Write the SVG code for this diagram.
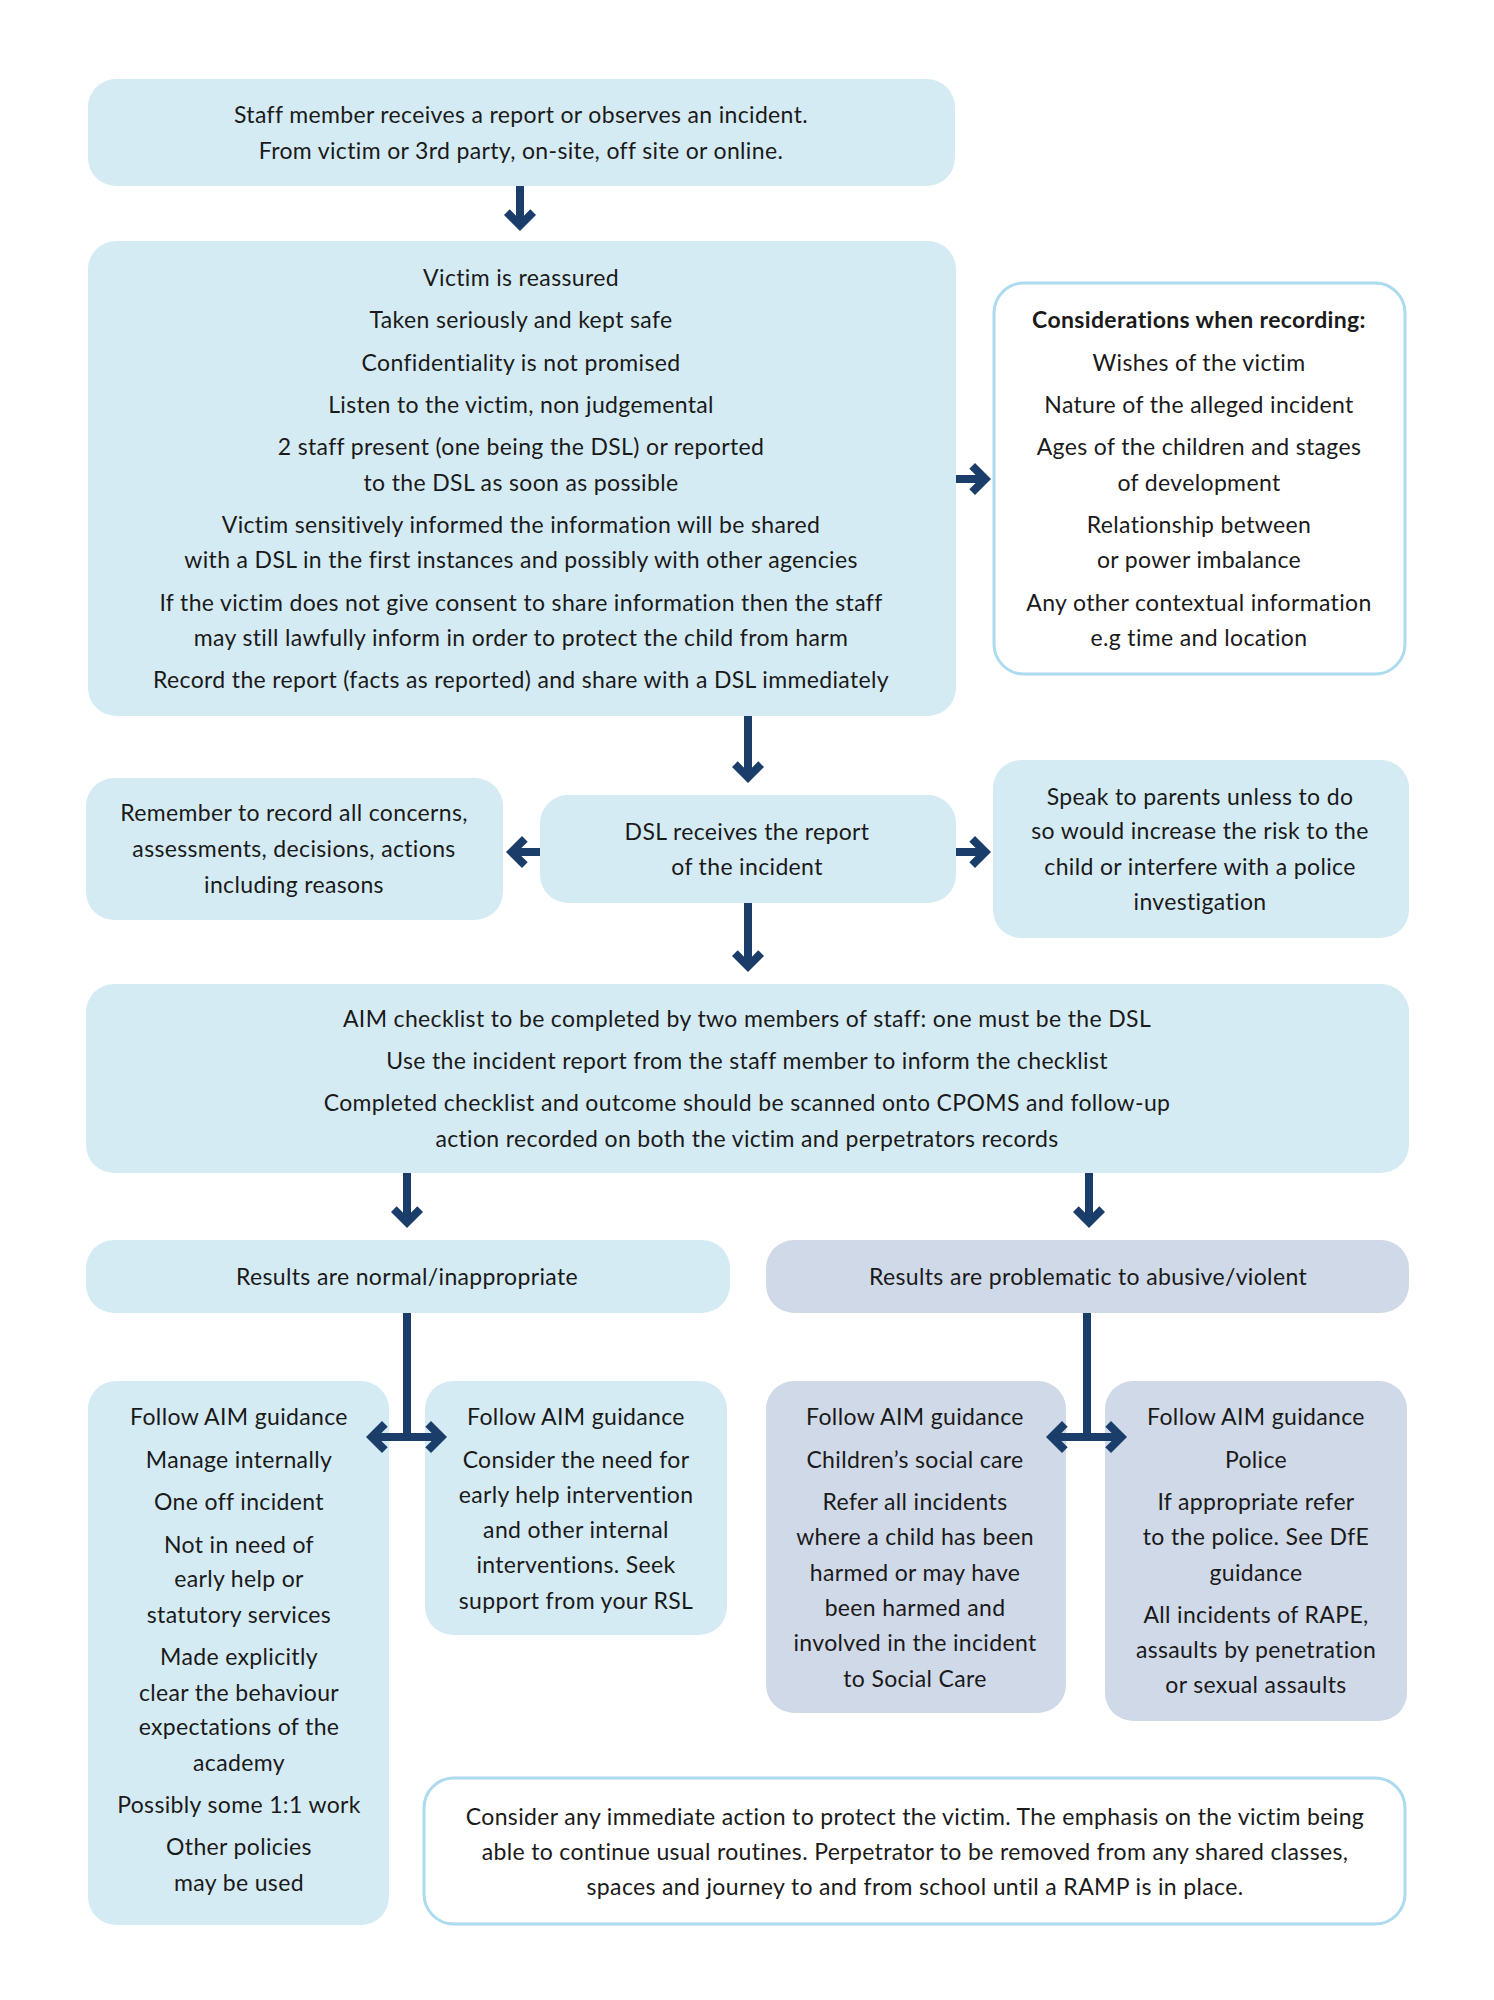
<svg xmlns="http://www.w3.org/2000/svg" width="1494" height="2000" viewBox="0 0 1494 2000">
<style>
.box{fill:#d5ebf4;}
.lav{fill:#d0d9e8;}
.wbox{fill:#ffffff;stroke:#acdaee;stroke-width:3;}
text{font-family:Lato,"Noto Sans",sans-serif;font-size:23px;letter-spacing:0.35px;fill:#1a1a1a;text-anchor:middle;}
.b{font-weight:bold;}
.con{stroke:#1b3d69;stroke-width:8;fill:none;}
</style>
<defs>
<marker id="ah" markerUnits="userSpaceOnUse" markerWidth="40" markerHeight="40" viewBox="-30 -20 40 40" refX="-8" refY="0" orient="auto-start-reverse" overflow="visible">
<path d="M0,0 L-16,-16 L-21.7,-10.3 L-11.3,0 L-21.7,10.3 L-16,16 Z" fill="#1b3d69"/>
</marker>
</defs>
<rect width="1494" height="2000" fill="#ffffff"/>

<g id="n1"><rect class="box" x="88" y="79" width="867" height="107" rx="28"/>
<text x="521" y="123">Staff member receives a report or observes an incident.</text>
<text x="521" y="159">From victim or 3rd party, on-site, off site or online.</text></g>

<g id="n2"><rect class="box" x="88" y="241" width="868" height="475" rx="28"/>
<text x="521" y="286">Victim is reassured</text>
<text x="521" y="328">Taken seriously and kept safe</text>
<text x="521" y="371">Confidentiality is not promised</text>
<text x="521" y="413">Listen to the victim, non judgemental</text>
<text x="521" y="455">2 staff present (one being the DSL) or reported</text>
<text x="521" y="491">to the DSL as soon as possible</text>
<text x="521" y="533">Victim sensitively informed the information will be shared</text>
<text x="521" y="568">with a DSL in the first instances and possibly with other agencies</text>
<text x="521" y="611">If the victim does not give consent to share information then the staff</text>
<text x="521" y="646">may still lawfully inform in order to protect the child from harm</text>
<text x="521" y="688">Record the report (facts as reported) and share with a DSL immediately</text></g>

<g id="n3"><rect class="wbox" x="994" y="283" width="411" height="391" rx="30"/>
<text class="b" x="1199" y="328">Considerations when recording:</text>
<text x="1199" y="371">Wishes of the victim</text>
<text x="1199" y="413">Nature of the alleged incident</text>
<text x="1199" y="455">Ages of the children and stages</text>
<text x="1199" y="491">of development</text>
<text x="1199" y="533">Relationship between</text>
<text x="1199" y="568">or power imbalance</text>
<text x="1199" y="611">Any other contextual information</text>
<text x="1199" y="646">e.g time and location</text></g>

<g id="n4"><rect class="box" x="86" y="778" width="417" height="142" rx="28"/>
<text x="294" y="821">Remember to record all concerns,</text>
<text x="294" y="857">assessments, decisions, actions</text>
<text x="294" y="893">including reasons</text></g>

<g id="n5"><rect class="box" x="540" y="795" width="416" height="108" rx="28"/>
<text x="747" y="840">DSL receives the report</text>
<text x="747" y="875">of the incident</text></g>

<g id="n6"><rect class="box" x="993" y="760" width="416" height="178" rx="28"/>
<text x="1200" y="805">Speak to parents unless to do</text>
<text x="1200" y="839">so would increase the risk to the</text>
<text x="1200" y="875">child or interfere with a police</text>
<text x="1200" y="910">investigation</text></g>

<g id="n7"><rect class="box" x="86" y="984" width="1323" height="189" rx="28"/>
<text x="747" y="1027">AIM checklist to be completed by two members of staff: one must be the DSL</text>
<text x="747" y="1069">Use the incident report from the staff member to inform the checklist</text>
<text x="747" y="1111">Completed checklist and outcome should be scanned onto CPOMS and follow-up</text>
<text x="747" y="1147">action recorded on both the victim and perpetrators records</text></g>

<g id="n8"><rect class="box" x="86" y="1240" width="644" height="73" rx="28"/>
<text x="407" y="1285">Results are normal/inappropriate</text></g>

<g id="n9"><rect class="lav" x="766" y="1240" width="643" height="73" rx="28"/>
<text x="1088" y="1285">Results are problematic to abusive/violent</text></g>

<g id="n10"><rect class="box" x="88" y="1381" width="301" height="544" rx="28"/>
<text x="239" y="1425">Follow AIM guidance</text>
<text x="239" y="1468">Manage internally</text>
<text x="239" y="1510">One off incident</text>
<text x="239" y="1553">Not in need of</text>
<text x="239" y="1587">early help or</text>
<text x="239" y="1623">statutory services</text>
<text x="239" y="1665">Made explicitly</text>
<text x="239" y="1701">clear the behaviour</text>
<text x="239" y="1735">expectations of the</text>
<text x="239" y="1771">academy</text>
<text x="239" y="1813">Possibly some 1:1 work</text>
<text x="239" y="1855">Other policies</text>
<text x="239" y="1891">may be used</text></g>

<g id="n11"><rect class="box" x="425" y="1381" width="302" height="254" rx="28"/>
<text x="576" y="1425">Follow AIM guidance</text>
<text x="576" y="1468">Consider the need for</text>
<text x="576" y="1503">early help intervention</text>
<text x="576" y="1538">and other internal</text>
<text x="576" y="1573">interventions. Seek</text>
<text x="576" y="1609">support from your RSL</text></g>

<g id="n12"><rect class="lav" x="766" y="1381" width="300" height="332" rx="28"/>
<text x="915" y="1425">Follow AIM guidance</text>
<text x="915" y="1468">Children’s social care</text>
<text x="915" y="1510">Refer all incidents</text>
<text x="915" y="1545">where a child has been</text>
<text x="915" y="1581">harmed or may have</text>
<text x="915" y="1616">been harmed and</text>
<text x="915" y="1651">involved in the incident</text>
<text x="915" y="1687">to Social Care</text></g>

<g id="n13"><rect class="lav" x="1105" y="1381" width="302" height="340" rx="28"/>
<text x="1256" y="1425">Follow AIM guidance</text>
<text x="1256" y="1468">Police</text>
<text x="1256" y="1510">If appropriate refer</text>
<text x="1256" y="1545">to the police. See DfE</text>
<text x="1256" y="1581">guidance</text>
<text x="1256" y="1623">All incidents of RAPE,</text>
<text x="1256" y="1658">assaults by penetration</text>
<text x="1256" y="1693">or sexual assaults</text></g>

<g id="n14"><rect class="wbox" x="424" y="1778" width="981" height="146" rx="30"/>
<text x="915" y="1825">Consider any immediate action to protect the victim. The emphasis on the victim being</text>
<text x="915" y="1860">able to continue usual routines. Perpetrator to be removed from any shared classes,</text>
<text x="915" y="1895">spaces and journey to and from school until a RAMP is in place.</text></g>

<g id="connectors" class="con">
<line x1="520" y1="186" x2="520" y2="223" marker-end="url(#ah)"/>
<line x1="956" y1="479" x2="983" y2="479" marker-end="url(#ah)"/>
<line x1="748" y1="716" x2="748" y2="775" marker-end="url(#ah)"/>
<line x1="540" y1="852" x2="514" y2="852" marker-end="url(#ah)"/>
<line x1="956" y1="852" x2="983" y2="852" marker-end="url(#ah)"/>
<line x1="748" y1="903" x2="748" y2="964" marker-end="url(#ah)"/>
<line x1="407" y1="1173" x2="407" y2="1220" marker-end="url(#ah)"/>
<line x1="1089" y1="1173" x2="1089" y2="1220" marker-end="url(#ah)"/>
<line x1="407" y1="1313" x2="407" y2="1437"/>
<line x1="374" y1="1437" x2="439" y2="1437" marker-start="url(#ah)" marker-end="url(#ah)"/>
<line x1="1087" y1="1313" x2="1087" y2="1437"/>
<line x1="1054" y1="1437" x2="1119" y2="1437" marker-start="url(#ah)" marker-end="url(#ah)"/>
</g>
</svg>
